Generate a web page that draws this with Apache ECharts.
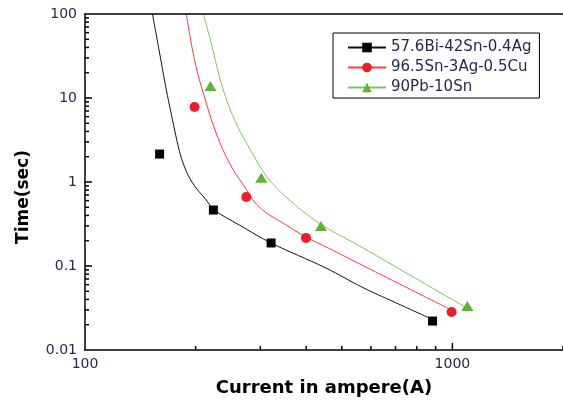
<!DOCTYPE html>
<html><head><meta charset="utf-8">
<script src="https://cdn.jsdelivr.net/npm/echarts@6/dist/echarts.min.js"></script>
<style>html,body{margin:0;padding:0;background:#fff}#c{width:563px;height:407px}</style>
</head><body><div id="c"></div>
<script>
const seriesNames = ['57.6Bi-42Sn-0.4Ag', '96.5Sn-3Ag-0.5Cu', '90Pb-10Sn'];
const seriesColors = ['#000000', '#ee1c24', '#5cb531'];
const lineColors = ['#111111', '#ff3a3a', '#7cc860'];
const markerSymbols = ['rect', 'circle', 'triangle'];

// measured points (current A, time s)
const bisnPoints = [[159.6, 2.15], [223.6, 0.464], [321, 0.188], [883, 0.0221]];
const sacPoints = [[198.7, 7.8], [274.8, 0.662], [399.6, 0.216], [995, 0.0283]];
const pbsnPoints = [[219.5, 13.9], [301.8, 1.12], [438.7, 0.299], [1098, 0.0334]];

// fitted curves
const bisnCurve = [[152.6, 100], [159.6, 34.4], [166.5, 12.5], [175.4, 4.16], [180.9, 2.3], [186.6, 1.51],
  [196.2, 0.973], [213.7, 0.611], [225, 0.464], [263, 0.308], [321, 0.188], [452.7, 0.0946],
  [566.7, 0.0562], [700.7, 0.0366], [877, 0.0234]];
const sacCurve = [[188.7, 100], [198.7, 28.3], [211.4, 10.3], [227.5, 3.83], [247.2, 1.68], [269.8, 0.92],
  [298, 0.504], [352.7, 0.308], [399.6, 0.221], [461, 0.1625], [566.7, 0.1028], [774, 0.0518], [994, 0.0299]];
const pbsnCurve = [[210.1, 100], [220.5, 45.2], [236.6, 13.5], [257.7, 5.04], [285.3, 2.21], [313, 1.15],
  [352.7, 0.663], [433.5, 0.325], [566.7, 0.167], [774, 0.076], [1084, 0.0325]];

const xMin = 100, xMax = 2000;
const yMin = 0.01, yMax = 100;
const xMajorTicks = [1000];
const xMinorTicks = [200, 300, 400, 500, 600, 700, 800, 900, 2000];
const yMajorTicks = [0.1, 1, 10];
const yMinorTicks = [0.02, 0.03, 0.04, 0.05, 0.06, 0.07, 0.08, 0.09,
  0.2, 0.3, 0.4, 0.5, 0.6, 0.7, 0.8, 0.9,
  2, 3, 4, 5, 6, 7, 8, 9,
  20, 30, 40, 50, 60, 70, 80, 90];

const curves = [bisnCurve, sacCurve, pbsnCurve];
const points = [bisnPoints, sacPoints, pbsnPoints];
const markerSizes = [9, 10, [12, 10]];

const labelColor = '#262a48';
const axisLineStyle = { color: '#000', width: 1.5 };
const fmt = v => v >= 1 ? String(Math.round(v)) : String(+Number(v).toPrecision(3));
const MAJOR = 7, MINOR = 4, TW = 1.5;

const series = [];
curves.forEach((c, i) => {
  series.push({
    name: seriesNames[i], type: 'line', data: c, smooth: 0.4,
    symbol: markerSymbols[i], showSymbol: false, silent: true,
    lineStyle: { color: lineColors[i], width: 1 },
    itemStyle: { color: seriesColors[i] },
    z: 2
  });
});
points.forEach((p, i) => {
  series.push({
    name: 'pts' + i, type: 'scatter', data: p, symbol: markerSymbols[i],
    symbolSize: markerSizes[i], silent: true,
    itemStyle: { color: seriesColors[i], opacity: 1 },
    z: 3
  });
});

// tick marks placed through the axes' own scales
const xTick = (v, len) => ({ value: [v, yMin], symbolSize: [TW, len], symbolOffset: [0, -len / 2] });
const yTick = (v, len) => ({ value: [xMin, v], symbolSize: [len, TW], symbolOffset: [len / 2, 0] });
const tickData = xMajorTicks.map(v => xTick(v, MAJOR))
  .concat(xMinorTicks.map(v => xTick(v, MINOR)))
  .concat(yMajorTicks.map(v => yTick(v, MAJOR)))
  .concat(yMinorTicks.map(v => yTick(v, MINOR)));
series.push({
  name: 'ticks', type: 'scatter', data: tickData, symbol: 'rect', silent: true, clip: false,
  itemStyle: { color: '#000', opacity: 1 }, z: 6
});

const chart = echarts.init(document.getElementById('c'), null, { renderer: 'canvas' });
chart.setOption({
  animation: false,
  backgroundColor: '#fff',
  grid: { left: 85, top: 14, right: -2, bottom: 57 },
  legend: {
    data: seriesNames, orient: 'vertical', left: 333, top: 33,
    padding: [7, 8, 3, 14], itemWidth: 38, itemHeight: 12, itemGap: 5,
    borderColor: '#000', borderWidth: 1, borderRadius: 0, backgroundColor: '#fff',
    textStyle: { fontFamily: 'DejaVu Sans', fontSize: 15, color: labelColor },
    selectedMode: false
  },
  xAxis: [{
    type: 'log', logBase: 10, min: xMin, max: xMax, position: 'bottom', z: 5,
    axisLine: { show: true, onZero: false, lineStyle: axisLineStyle },
    axisTick: { show: false },
    axisLabel: { showMaxLabel: false, color: labelColor, fontFamily: 'DejaVu Sans', fontSize: 14, margin: 7, formatter: fmt },
    splitLine: { show: false }, minorTick: { show: false },
    name: 'Current in ampere(A)', nameLocation: 'middle', nameGap: 29,
    nameTextStyle: { fontFamily: 'DejaVu Sans', fontWeight: 'bold', fontSize: 18, color: '#000' }
  }, {
    type: 'log', logBase: 10, min: xMin, max: xMax, position: 'top', z: 5,
    axisLine: { show: true, onZero: false, lineStyle: axisLineStyle },
    axisTick: { show: false }, axisLabel: { show: false }, splitLine: { show: false }
  }],
  yAxis: [{
    type: 'log', logBase: 10, min: yMin, max: yMax, position: 'left', z: 5,
    axisLine: { show: true, onZero: false, lineStyle: axisLineStyle },
    axisTick: { show: false },
    axisLabel: { color: labelColor, fontFamily: 'DejaVu Sans', fontSize: 14, margin: 8, formatter: fmt },
    splitLine: { show: false },
    name: 'Time(sec)', nameLocation: 'middle', nameGap: 53,
    nameTextStyle: { fontFamily: 'DejaVu Sans', fontWeight: 'bold', fontSize: 17, color: '#000', padding: [0, 30, 0, 0] }
  }],
  series: series
});
</script></body></html>
